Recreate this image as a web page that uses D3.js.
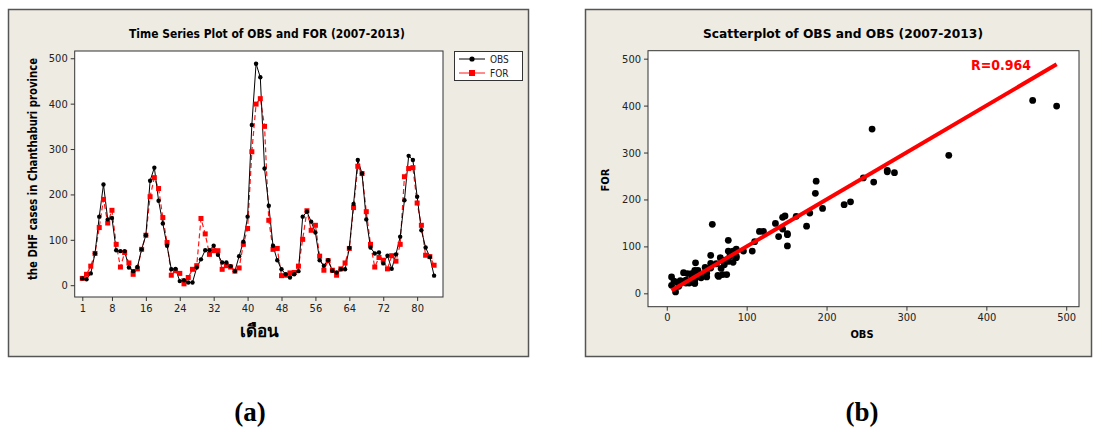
<!DOCTYPE html>
<html>
<head>
<meta charset="utf-8">
<script src="https://cdn.jsdelivr.net/npm/d3@7"></script>
<style>
    body { margin: 0; background: #fff; }
    text { font-family: Tahoma, "DejaVu Sans Condensed", "DejaVu Sans", sans-serif; }
</style>
</head>
<body>
<div class="vis"></div>
<script>
    // monthly DHF cases
    const months = d3.range(1, 85);
    const obs = [15, 13, 26, 70, 151, 222, 145, 148, 77, 75, 75, 39, 31, 40, 79, 110, 230, 259, 186, 136,
        87, 35, 36, 9, 11, 6, 6, 39, 57, 77, 77, 87, 67, 50, 50, 42, 31, 64, 96, 151,
        353, 488, 458, 257, 175, 87, 55, 35, 24, 17, 24, 31, 151, 162, 140, 116, 55, 43, 55, 32,
        28, 35, 35, 82, 179, 276, 246, 145, 83, 70, 72, 48, 65, 36, 68, 107, 187, 285, 276, 195,
        121, 83, 62, 21];
    const fore = [15, 24, 42, 70, 127, 189, 137, 165, 90, 40, 72, 49, 24, 36, 79, 110, 195, 237, 213, 149,
        94, 22, 32, 26, 3, 17, 35, 43, 147, 113, 68, 76, 76, 35, 43, 40, 31, 38, 90, 125,
        294, 399, 411, 350, 143, 79, 81, 21, 22, 27, 28, 42, 101, 164, 121, 132, 64, 33, 54, 33,
        22, 36, 49, 81, 171, 262, 246, 162, 90, 40, 61, 55, 36, 65, 53, 90, 239, 257, 259, 181,
        132, 66, 63, 44];
    const monthTicks = [1, 8, 16, 24, 32, 40, 48, 56, 64, 72, 80];
    const caseTicks = [0, 100, 200, 300, 400, 500];
    const scatterTicks = [0, 100, 200, 300, 400, 500];
    const seriesNames = ["OBS", "FOR"];
    const rText = "R=0.964";

    const W = 1093, H = 430;
    const panelFill = "#eeebe2";
    const frameColor = "#555";

    const svg = d3.select(".vis").append("svg")
        .attr("width", W)
        .attr("height", H);

    function panel(x0, x1, y0, y1) {
        svg.append("rect")
            .attr("x", x0 + 0.5).attr("y", y0 + 0.5)
            .attr("width", x1 - x0).attr("height", y1 - y0)
            .attr("fill", panelFill)
            .attr("stroke", frameColor)
            .attr("stroke-width", 1.5);
    }

    function axes(x, y, xTicks, yTicks) {
        const [l, r] = x.range();
        const [b, t] = y.range();
        svg.append("rect")
            .attr("x", l).attr("y", t)
            .attr("width", r - l).attr("height", b - t)
            .attr("fill", "#fff")
            .attr("stroke", "#333")
            .attr("stroke-width", 1);

        const ax = svg.append("g")
            .attr("transform", `translate(0,${b})`)
            .call(d3.axisBottom(x).tickValues(xTicks).tickSize(4).tickPadding(3));
        const ay = svg.append("g")
            .attr("transform", `translate(${l},0)`)
            .call(d3.axisLeft(y).tickValues(yTicks).tickSize(4).tickPadding(3));
        [ax, ay].forEach(g => {
            g.select(".domain").remove();
            g.selectAll("line").attr("stroke", "#333");
            g.selectAll("text")
                .attr("fill", "#222")
                .style("font-size", "11px")
                .style("font-family", "Tahoma, 'DejaVu Sans Condensed', 'DejaVu Sans', sans-serif");
        });
    }

    function boldText(str, x, y, size, len, rotate) {
        const t = svg.append("text")
            .attr("text-anchor", "middle")
            .attr("font-weight", "bold")
            .style("font-size", size + "px")
            .text(str);
        if (len) t.attr("textLength", len).attr("lengthAdjust", "spacingAndGlyphs");
        if (rotate) {
            t.attr("transform", `translate(${x},${y}) rotate(-90)`);
        } else {
            t.attr("x", x).attr("y", y);
        }
        return t;
    }

    // ---------- (a) time series ----------
    panel(8, 528, 9, 356);

    const xa = d3.scaleLinear().domain([-0.79, 86.1]).range([74.7, 443]);
    const ya = d3.scaleLinear().domain([-26, 516]).range([297, 51]);
    axes(xa, ya, monthTicks, caseTicks);

    boldText("Time Series Plot of OBS and FOR (2007-2013)", 267, 38, 12.5, 276);
    boldText("the DHF cases in Chanthaburi province", 37, 169, 13, 222, true);
    boldText("เดือน", 259, 337, 17);

    const line = d3.line()
        .x((d, i) => xa(months[i]))
        .y(d => ya(d));

    svg.append("path")
        .datum(fore)
        .attr("d", line)
        .attr("fill", "none")
        .attr("stroke", "#ff1a1a")
        .attr("stroke-width", 1.2)
        .attr("stroke-dasharray", "5,3");

    svg.append("path")
        .datum(obs)
        .attr("d", line)
        .attr("fill", "none")
        .attr("stroke", "#000")
        .attr("stroke-width", 1);

    svg.selectAll(".forPt")
        .data(fore)
        .enter().append("rect")
        .attr("class", "forPt")
        .attr("x", (d, i) => xa(months[i]) - 2.5)
        .attr("y", d => ya(d) - 2.5)
        .attr("width", 5)
        .attr("height", 5)
        .attr("fill", "#ff0000");

    svg.selectAll(".obsPt")
        .data(obs)
        .enter().append("circle")
        .attr("class", "obsPt")
        .attr("cx", (d, i) => xa(months[i]))
        .attr("cy", d => ya(d))
        .attr("r", 2.2)
        .attr("fill", "#000");

    // legend
    const lg = svg.append("g").attr("transform", "translate(454,51)");
    lg.append("rect")
        .attr("x", 0.5).attr("y", 0.5)
        .attr("width", 68).attr("height", 29)
        .attr("fill", "#fff")
        .attr("stroke", "#333");
    seriesNames.forEach((name, i) => {
        const yy = 8 + i * 14;
        const isObs = i === 0;
        lg.append("line")
            .attr("x1", 5).attr("x2", 31)
            .attr("y1", yy).attr("y2", yy)
            .attr("stroke", isObs ? "#000" : "#ff1a1a")
            .attr("stroke-width", 1);
        if (isObs) {
            lg.append("circle").attr("cx", 18).attr("cy", yy).attr("r", 2.6).attr("fill", "#000");
        } else {
            lg.append("rect").attr("x", 15).attr("y", yy - 3).attr("width", 6).attr("height", 6).attr("fill", "#ff0000");
        }
        lg.append("text")
            .attr("x", 36).attr("y", yy + 4)
            .style("font-size", "10px")
            .attr("fill", "#222")
            .text(name);
    });

    // ---------- (b) scatter ----------
    panel(585, 1091, 9, 356);

    const xb = d3.scaleLinear().domain([-23.5, 516]).range([648, 1079]);
    const yb = d3.scaleLinear().domain([-28.5, 517]).range([306.7, 50.7]);
    axes(xb, yb, scatterTicks, scatterTicks);

    boldText("Scatterplot of OBS and OBS (2007-2013)", 843, 38, 13, 280);
    boldText("OBS", 862, 338, 11);
    boldText("FOR", 609, 180, 11, null, true);

    svg.selectAll(".sc")
        .data(obs)
        .enter().append("circle")
        .attr("class", "sc")
        .attr("cx", d => xb(d))
        .attr("cy", (d, i) => yb(fore[i]))
        .attr("r", 3.4)
        .attr("fill", "#000");

    // OBS against OBS reference line
    const ext = d3.extent(obs);
    svg.append("line")
        .attr("x1", xb(ext[0])).attr("y1", yb(ext[0]))
        .attr("x2", xb(ext[1])).attr("y2", yb(ext[1]))
        .attr("stroke", "#ff0000")
        .attr("stroke-width", 4);

    svg.append("text")
        .attr("x", 1001).attr("y", 70)
        .attr("text-anchor", "middle")
        .attr("font-weight", "bold")
        .attr("fill", "#ff0000")
        .style("font-size", "14px")
        .attr("textLength", 60)
        .attr("lengthAdjust", "spacingAndGlyphs")
        .text(rText);

    // captions
    [["(a)", 250], ["(b)", 862]].forEach(c => {
        svg.append("text")
            .attr("x", c[1]).attr("y", 421)
            .attr("text-anchor", "middle")
            .attr("font-weight", "bold")
            .style("font-family", "'Liberation Serif', 'Times New Roman', serif")
            .style("font-size", "27px")
            .text(c[0]);
    });
</script>
</body>
</html>
